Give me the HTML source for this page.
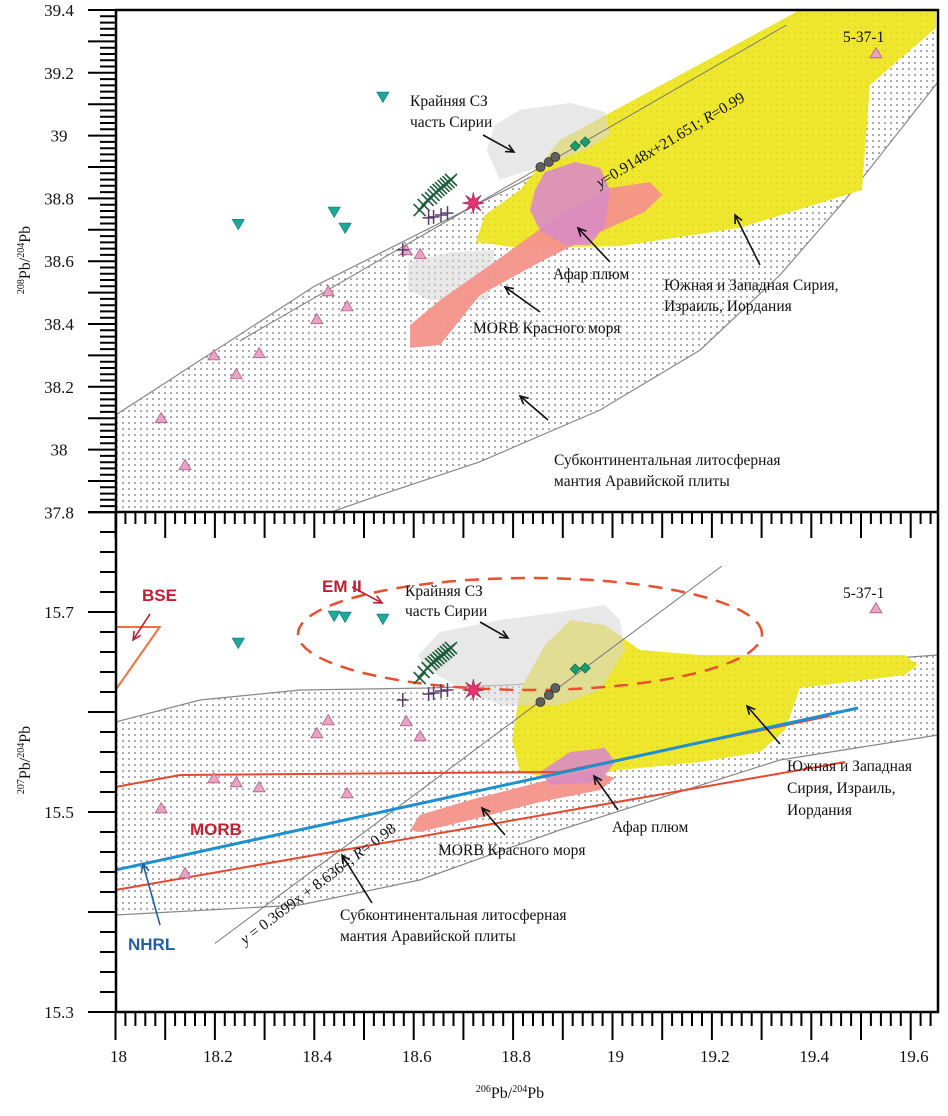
<!DOCTYPE html>
<html><head><meta charset="utf-8"><style>
body{margin:0;background:#fff;}
svg{display:block;font-family:"Liberation Serif",serif;}
</style></head><body>
<svg id="c" width="948" height="1116" viewBox="0 0 948 1116" xmlns="http://www.w3.org/2000/svg">
<defs>
<pattern id="dots" width="6" height="6" patternUnits="userSpaceOnUse"><circle cx="3" cy="3" r="0.85" fill="#666"/></pattern>
<pattern id="ydots" width="6" height="6" patternUnits="userSpaceOnUse"><rect width="6" height="6" fill="#eee72e"/><circle cx="3" cy="3" r="0.8" fill="#d8d020"/></pattern>
<clipPath id="clipTop"><rect x="116" y="10" width="822" height="502"/></clipPath>
<clipPath id="clipBot"><rect x="116" y="512" width="822" height="500"/></clipPath>
</defs>
<g id="top" clip-path="url(#clipTop)"></g>
<g id="bot" clip-path="url(#clipBot)"></g>
<g id="axes"></g>
<g id="labels"></g>
</svg>
<script>
// ---- axis scales ----
const X0=18, XPX0=115.5, XK=497;
const TOP_Y0=39.4, TOP_PY0=10, TOP_K=314;
const BOT_Y0=15.8, BOT_PY0=512, BOT_K=1000;
function sx(v){return XPX0+(v-X0)*XK;}
function syT(v){return TOP_PY0+(TOP_Y0-v)*TOP_K;}
function syB(v){return BOT_PY0+(BOT_Y0-v)*BOT_K;}

// ---- data: samples ----
const cyanX=[18.538,18.247,18.44,18.462];
const cyanTop=[39.123,38.718,38.757,38.706];
const cyanBot=[15.693,15.669,15.696,15.695];
const pinkX=[18.092,18.14,18.198,18.243,18.289,18.405,18.428,18.466,18.585,18.613,19.53];
const pinkTop=[38.101,37.951,38.301,38.241,38.308,38.416,38.505,38.457,38.636,38.623,39.263];
const pinkBot=[15.504,15.439,15.534,15.53,15.525,15.579,15.592,15.519,15.591,15.576,15.704];
const xX=[18.612,18.62,18.628,18.635,18.64,18.645,18.65,18.655,18.66,18.665,18.67,18.675];
const xTop=[38.763,38.779,38.795,38.801,38.811,38.82,38.827,38.833,38.84,38.846,38.852,38.859];
const xBot=[15.634,15.64,15.644,15.648,15.65,15.652,15.654,15.656,15.658,15.66,15.662,15.664];
const plusX=[18.578,18.63,18.64,18.655,18.668];
const plusTop=[38.636,38.738,38.741,38.747,38.753];
const plusBot=[15.612,15.618,15.619,15.621,15.622];
const starX=[18.72], starTop=[38.785], starBot=[15.622];
const circX=[18.855,18.872,18.885];
const circTop=[38.9,38.916,38.932];
const circBot=[15.61,15.617,15.624];
const diaX=[18.925,18.945];
const diaTop=[38.967,38.98];
const diaBot=[15.643,15.644];

// ---- data: fields (x,y pairs in data units) ----
const sclmTop=[[18,38.11],[18.4,38.52],[18.814,38.85],[19.216,39.209],[19.377,39.4],[19.655,39.4],[19.655,39.171],[19.468,38.795],[19.337,38.556],[19.176,38.317],[18.975,38.126],[18.733,37.961],[18.532,37.855],[18.432,37.8],[18,37.8]];
const yellowTop=[[18.894,38.986],[19.377,39.4],[19.651,39.4],[19.651,39.343],[19.518,39.161],[19.502,38.827],[19.256,38.706],[19.015,38.648],[18.814,38.642],[18.725,38.661],[18.743,38.747],[18.814,38.827]];
const greyTopA=[[18.747,38.954],[18.763,39.034],[18.814,39.082],[18.915,39.104],[18.985,39.075],[18.995,39.002],[18.945,38.954],[18.864,38.906],[18.773,38.859]];
const greyTopB=[[18.589,38.597],[18.673,38.629],[18.763,38.636],[18.749,38.476],[18.633,38.476],[18.589,38.508]];
const morbTop=[[18.593,38.324],[18.593,38.397],[18.653,38.476],[18.754,38.588],[18.894,38.747],[18.995,38.833],[19.075,38.852],[19.1,38.811],[19.065,38.757],[18.975,38.693],[18.854,38.597],[18.733,38.492],[18.653,38.333]];
const afarTop=[[18.844,38.827],[18.864,38.884],[18.925,38.916],[18.975,38.897],[18.995,38.827],[18.985,38.715],[18.955,38.652],[18.904,38.652],[18.854,38.699],[18.834,38.763]];
const sclmBot=[[18,15.59],[18.17,15.612],[18.371,15.622],[18.633,15.624],[18.834,15.628],[19.176,15.64],[19.655,15.657],[19.655,15.577],[19.337,15.552],[18.894,15.482],[18.612,15.432],[18.371,15.407],[18,15.397]];
const yellowBot=[[18.814,15.622],[18.864,15.667],[18.915,15.692],[18.985,15.687],[19.055,15.662],[19.176,15.657],[19.377,15.657],[19.588,15.657],[19.614,15.647],[19.588,15.637],[19.377,15.624],[19.347,15.582],[19.297,15.56],[19.176,15.55],[19.015,15.542],[18.894,15.532],[18.814,15.54],[18.798,15.572]];
const greyBot=[[18.609,15.657],[18.653,15.68],[18.774,15.692],[18.894,15.7],[18.985,15.707],[19.015,15.692],[19.025,15.662],[18.975,15.622],[18.894,15.607],[18.774,15.607],[18.693,15.624],[18.623,15.644]];
const morbBot=[[18.593,15.482],[18.612,15.497],[18.713,15.512],[18.854,15.53],[18.955,15.542],[19.005,15.534],[18.975,15.522],[18.854,15.51],[18.713,15.492],[18.612,15.48]];
const afarBot=[[18.854,15.54],[18.915,15.56],[18.985,15.564],[19.005,15.55],[18.975,15.53],[18.874,15.527]];
const nhrl=[[18,15.442],[19.494,15.604]];
const morbUpper=[[18,15.525],[18.13,15.537],[18.894,15.54],[19.437,15.596]];
const morbLower=[[18,15.422],[19.468,15.55]];
const bse=[[18,15.685],[18.089,15.685],[18,15.622]];
const em2Center=[18.834,15.678], em2R=[0.467,0.056];
const regTop=[0.9148,21.651], regTopRange=[18.25,19.35];
const regBot=[0.3699,8.6364], regBotRange=[18.2,19.22];

const NS="http://www.w3.org/2000/svg";
function mk(tag,attrs,parent){const e=document.createElementNS(NS,tag);for(const k in attrs)e.setAttribute(k,attrs[k]);parent.appendChild(e);return e;}
const gT=document.getElementById('top'), gB=document.getElementById('bot'), gA=document.getElementById('axes'), gL=document.getElementById('labels');

function poly(pts,sy,g,fill,stroke,name,op){
  const p=mk('polygon',{points:pts.map(d=>sx(d[0]).toFixed(1)+','+sy(d[1]).toFixed(1)).join(' '),fill:fill,stroke:stroke||'none','stroke-width':1.2,opacity:op||1},g);
  
  
}
function pline(pts,sy,g,stroke,w,name,dash){
  const p=mk('polyline',{points:pts.map(d=>sx(d[0]).toFixed(1)+','+sy(d[1]).toFixed(1)).join(' '),fill:'none',stroke:stroke,'stroke-width':w},g);
  if(dash)p.setAttribute('stroke-dasharray',dash);
  
  
}
function fields(g,sy,sclm,yellow,greys,morb,afar,pre){
  poly(sclm,sy,g,'url(#dots)','#888',pre+'sclm-field');
  poly(yellow,sy,g,'url(#ydots)','none',pre+'syria-israel-jordan-field');
  greys.forEach((gr,i)=>poly(gr,sy,g,'#d8d8d8','none',pre+'nw-syria-field',0.6));
  poly(morb,sy,g,'#f4928a','none',pre+'red-sea-morb-field',0.95);
  poly(afar,sy,g,'#d98cc4','none',pre+'afar-plume-field',0.9);
}
fields(gT,syT,sclmTop,yellowTop,[greyTopA,greyTopB],morbTop,afarTop,'top-');
fields(gB,syB,sclmBot,yellowBot,[greyBot],morbBot,afarBot,'bottom-');

pline([[regTopRange[0],regTop[0]*regTopRange[0]+regTop[1]],[regTopRange[1],regTop[0]*regTopRange[1]+regTop[1]]],syT,gT,'#777',1,'top-regression-line');
pline([[regBotRange[0],regBot[0]*regBotRange[0]+regBot[1]],[regBotRange[1],regBot[0]*regBotRange[1]+regBot[1]]],syB,gB,'#777',1,'bottom-regression-line');
pline(morbUpper,syB,gB,'#e8462e',2,'morb-upper-line');
pline(morbLower,syB,gB,'#e8462e',2,'morb-lower-line');
pline(nhrl,syB,gB,'#1e8fd0',3,'nhrl-line');
pline(bse.concat([bse[0]]),syB,gB,'#f07040',2,'bse-triangle');
(function(){const pts=[];for(let i=0;i<=72;i++){const t=i/72*2*Math.PI;pts.push([em2Center[0]+em2R[0]*Math.cos(t),em2Center[1]+em2R[1]*Math.sin(t)]);}
pline(pts,syB,gB,'#e8502e',2.5,'em2-ellipse','14,9');})();

function tri(x,y,g,down,fill,stroke,name){
  const s=6;const pts=down?[[x-s,y-s*0.8],[x+s,y-s*0.8],[x,y+s*0.9]]:[[x-s,y+s*0.8],[x+s,y+s*0.8],[x,y-s*0.9]];
  const p=mk('polygon',{points:pts.map(p=>p.join(',')).join(' '),fill:fill,stroke:stroke,'stroke-width':0.8},g);
  
  
}
function markers(g,sy,cy,py,xy,ply,sty,cry,dy,pre){
  cyanX.forEach((v,i)=>tri(sx(v),sy(cy[i]),g,true,'#1ea89c','#15877d',pre+'nw-syria-sample'));
  pinkX.forEach((v,i)=>tri(sx(v),sy(py[i]),g,false,'#eaa2c6','#b0607e',pre+'arabian-sample'));
  xX.forEach((v,i)=>{const x=sx(v),y=sy(xy[i]);const e=mk('path',{d:`M${x-6},${y-6}L${x+6},${y+6}M${x-6},${y+6}L${x+6},${y-6}`,stroke:'#1f5e3c','stroke-width':1.6},g);
    
    });
  plusX.forEach((v,i)=>{const x=sx(v),y=sy(ply[i]);const e=mk('path',{d:`M${x-6},${y}L${x+6},${y}M${x},${y-7}L${x},${y+7}`,stroke:'#5a3a70','stroke-width':1.5},g);
    
    });
  starX.forEach((v,i)=>{const x=sx(v),y=sy(sty[i]);let d='';for(let k=0;k<16;k++){const a=k*Math.PI/8-Math.PI/2,r=k%2?4:11;d+=(k?'L':'M')+(x+r*Math.cos(a)).toFixed(1)+','+(y+r*Math.sin(a)).toFixed(1);}
    const e=mk('path',{d:d+'Z',fill:'#e8336f',stroke:'#a02050','stroke-width':0.6},g);
    
    });
  circX.forEach((v,i)=>{const e=mk('circle',{cx:sx(v),cy:sy(cry[i]),r:4.5,fill:'#606060',stroke:'#333','stroke-width':0.8},g);
    
    });
  diaX.forEach((v,i)=>{const x=sx(v),y=sy(dy[i]);const e=mk('polygon',{points:`${x},${y-5} ${x+5},${y} ${x},${y+5} ${x-5},${y}`,fill:'#1a9e70',stroke:'#0e6a48','stroke-width':0.8},g);
    
    });
}
markers(gT,syT,cyanTop,pinkTop,xTop,plusTop,starTop,circTop,diaTop,'top-');
markers(gB,syB,cyanBot,pinkBot,xBot,plusBot,starBot,circBot,diaBot,'bottom-');

mk('rect',{x:116,y:10,width:822,height:1002,fill:'none',stroke:'#000','stroke-width':2.5},gA);
mk('line',{x1:116,y1:512,x2:938,y2:512,stroke:'#000','stroke-width':2.5},gA);
function ticks(){
  let d='';
  for(let i=0;i<=80;i++){const v=37.8+i*0.02,y=syT(v),major=i%5===0;d+=`M${major?88:100},${y.toFixed(1)}H116`;}
  for(let i=0;i<=25;i++){const v=15.3+i*0.02,y=syB(v),major=i%5===0;d+=`M${major?88:100},${y.toFixed(1)}H116`;}
  for(let i=0;i<=82;i++){const v=18+i*0.02,x=sx(v);if(x>937)break;const major=i%5===0;
    d+=`M${x.toFixed(1)},512V${major?538:524}M${x.toFixed(1)},1012V${major?1040:1026}`;}
  const p=mk('path',{d:d,stroke:'#000','stroke-width':2},gA);
  
  
}
ticks();
const yTopLabels=['37.8','38','38.2','38.4','38.6','38.8','39','39.2','39.4'];
const yBotLabels=['15.3','15.5','15.7'];
const xLabels=['18','18.2','18.4','18.6','18.8','19','19.2','19.4','19.6'];
function txt(s,x,y,opt,name,parent){
  const t=mk('text',Object.assign({x:x,y:y,'font-size':17,fill:'#111'},opt||{}),parent||gA);t.textContent=s;
  
  return t;
}
yTopLabels.forEach(s=>txt(s,59,syT(+s)+6,{'text-anchor':'middle'},'y-top-tick-label'));
yBotLabels.forEach(s=>txt(s,59,syB(+s)+6,{'text-anchor':'middle'},'y-bottom-tick-label'));
xLabels.forEach(s=>txt(s,sx(+s)+3,1062,{'text-anchor':'middle'},'x-tick-label'));

(function(){
  let t=txt('',30,260,{'text-anchor':'middle',transform:'rotate(-90 30 260)','font-size':16},'y-top-axis-title');
  t.innerHTML='<tspan font-size="10" dy="-6">208</tspan><tspan dy="6">Pb/</tspan><tspan font-size="10" dy="-6">204</tspan><tspan dy="6">Pb</tspan>';
  t=txt('',30,760,{'text-anchor':'middle',transform:'rotate(-90 30 760)','font-size':16},'y-bottom-axis-title');
  t.innerHTML='<tspan font-size="10" dy="-6">207</tspan><tspan dy="6">Pb/</tspan><tspan font-size="10" dy="-6">204</tspan><tspan dy="6">Pb</tspan>';
  t=txt('',510,1098,{'text-anchor':'middle','font-size':16},'x-axis-title');
  t.innerHTML='<tspan font-size="10" dy="-6">206</tspan><tspan dy="6">Pb/</tspan><tspan font-size="10" dy="-6">204</tspan><tspan dy="6">Pb</tspan>';
})();

function lab(s,x,y,name,opt){return txt(s,x,y,Object.assign({'font-size':15.5},opt||{}),name,gL);}
function arrow(x1,y1,x2,y2,col,name){
  const a=Math.atan2(y2-y1,x2-x1),h=9;
  const e=mk('path',{d:`M${x1},${y1}L${x2},${y2}M${x2-h*Math.cos(a-0.45)},${y2-h*Math.sin(a-0.45)}L${x2},${y2}L${x2-h*Math.cos(a+0.45)},${y2-h*Math.sin(a+0.45)}`,stroke:col||'#111','stroke-width':1.6,fill:'none'},gL);
  
  
}
lab('Крайняя СЗ',410,106,'nw-syria-label-top');lab('часть Сирии',410,127,'nw-syria-label-top-2');
arrow(483,135,514,152,null,'nw-syria-arrow-top');
lab('5-37-1',843,42,'sample-5-37-1-top');
txt('',600,188,{'font-size':15.5,transform:'rotate(-31 600 188)'},'top-regression-label',gL).innerHTML='<tspan font-style="italic">y</tspan>=0.9148<tspan font-style="italic">x</tspan>+21.651; <tspan font-style="italic">R</tspan>=0.99';
lab('Афар плюм',553,279,'afar-label-top');arrow(610,262,578,228,null,'afar-arrow-top');
lab('Южная и Западная Сирия,',664,290,'syria-label-top');lab('Израиль, Иордания',664,311,'syria-label-top-2');
arrow(760,265,735,215,null,'syria-arrow-top');
lab('MORB Красного моря',473,333,'morb-label-top');arrow(540,312,505,287,null,'morb-arrow-top');
lab('Субконтинентальная литосферная',554,465,'sclm-label-top');lab('мантия Аравийской плиты',554,486,'sclm-label-top-2');
arrow(548,420,520,396,null,'sclm-arrow-top');
lab('EM II',322,592,'em2-label',{'font-family':'Liberation Sans, sans-serif','font-weight':'bold',fill:'#c02030','font-size':17});
arrow(352,587,382,603,'#c02030','em2-arrow');
lab('BSE',142,601,'bse-label',{'font-family':'Liberation Sans, sans-serif','font-weight':'bold',fill:'#c02030','font-size':17});
arrow(150,614,133,640,'#c02030','bse-arrow');
lab('5-37-1',843,598,'sample-5-37-1-bottom');
lab('Крайняя СЗ',405,596,'nw-syria-label-bottom');lab('часть Сирии',405,616,'nw-syria-label-bottom-2');
arrow(480,622,508,638,null,'nw-syria-arrow-bottom');
lab('Южная и Западная',787,771,'syria-label-bottom');lab('Сирия, Израиль,',787,793,'syria-label-bottom-2');lab('Иордания',787,815,'syria-label-bottom-3');
arrow(780,744,747,706,null,'syria-arrow-bottom');
lab('Афар плюм',612,832,'afar-label-bottom');arrow(618,810,594,776,null,'afar-arrow-bottom');
lab('MORB Красного моря',438,855,'morb-label-bottom');arrow(505,835,482,808,null,'morb-arrow-bottom');
lab('MORB',190,835,'morb-field-label',{'font-family':'Liberation Sans, sans-serif','font-weight':'bold',fill:'#c02030','font-size':17});
lab('NHRL',128,950,'nhrl-label',{'font-family':'Liberation Sans, sans-serif','font-weight':'bold',fill:'#1e5fa8','font-size':17});
arrow(160,925,143,864,'#1e5fa8','nhrl-arrow');
lab('Субконтинентальная литосферная',340,920,'sclm-label-bottom');lab('мантия Аравийской плиты',340,941,'sclm-label-bottom-2');
arrow(372,903,342,855,null,'sclm-arrow-bottom');
txt('',245,945,{'font-size':15.5,transform:'rotate(-37 245 945)'},'bottom-regression-label',gL).innerHTML='<tspan font-style="italic">y</tspan> = 0.3699x + 8.6364; <tspan font-style="italic">R</tspan>= 0.98';
</script>
</body></html>
